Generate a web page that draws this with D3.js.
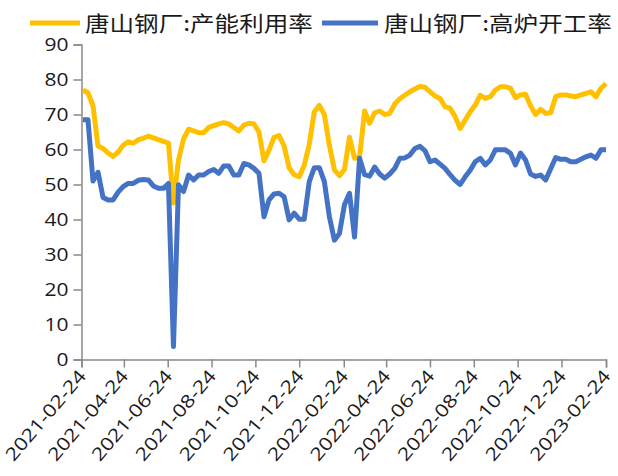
<!DOCTYPE html>
<html>
<head>
<meta charset="utf-8">
<script src="https://cdn.jsdelivr.net/npm/d3@7/dist/d3.min.js"></script>
<style>
  html, body { margin: 0; padding: 0; background: #fff; }
  svg { display: block; }
</style>
</head>
<body>
<svg id="chart" width="618" height="476"></svg>
<script>
// Weekly Tangshan steel mill indicators (%), first reading 2021-02-26
const firstWeek = "2021-02-26";

const seriesNames = ["唐山钢厂:产能利用率", "唐山钢厂:高炉开工率"];

const capacityUtil = [
  77, 76.2, 72.5, 61, 60.3, 59, 58, 59.3, 61.2, 62.2,
  61.8, 62.8, 63.2, 63.8, 63.3, 62.8, 62.3, 61.8, 44.7, 57,
  63, 65.8, 65.3, 64.8, 64.8, 66.3, 66.8, 67.3, 67.7, 67.3,
  66.3, 65.3, 67, 67.5, 67.3, 65, 56.8, 59.8, 63.5, 64,
  61, 54.8, 52.8, 52.2, 55.5, 61.5, 70.8, 72.6, 70, 61.2,
  54.2, 52.5, 54.3, 63.5, 57.5, 57.8, 71, 67.5, 70.5, 71,
  70, 70.3, 73, 74.5, 75.5, 76.5, 77.3, 78, 77.8, 76.5,
  75.3, 74.6, 72.2, 71.8, 69.4, 66, 68.4, 70.8, 72.7, 75.5,
  74.6, 75.1, 77, 77.9, 77.9, 77.5, 74.8, 75.6, 75.8, 72.5,
  70, 71.5, 70.3, 70.5, 75.1, 75.6, 75.6, 75.3, 75.1, 75.6,
  76, 76.5, 75.1, 77.5, 78.8
];

const blastFurnaceRate = [
  68.5, 68.5, 51, 53.5, 46.3, 45.6, 45.6, 47.8, 49.4, 50.3,
  50.3, 51.2, 51.4, 51.3, 49.6, 48.9, 48.9, 50.3, 3.7, 49.9,
  48, 52.7, 51.3, 52.7, 52.7, 53.7, 54.3, 53.2, 55.3, 55.3,
  52.7, 52.7, 56, 55.6, 54.6, 53.2, 40.8, 45.6, 47.3, 47.5,
  46.5, 39.9, 41.8, 40.1, 40.1, 50.8, 54.8, 54.8, 50.8, 40.8,
  34.1, 36, 44.2, 47.5, 35, 57.5, 52.8, 52.4, 55, 53,
  51.8, 53, 54.6, 57.5, 57.6, 58.4, 60.3, 60.9, 59.7, 56.5,
  57, 55.8, 54.6, 52.8, 51.2, 50, 52.2, 54.1, 56.5, 57.5,
  55.6, 57, 59.9, 59.9, 59.9, 58.9, 55.6, 59, 57, 53,
  52.3, 52.7, 51.3, 54.5, 57.7, 57.2, 57.2, 56.5, 56.5, 57.2,
  57.9, 58.4, 57.5, 59.9, 59.9
];

const xTickLabels = [
  "2021-02-24", "2021-04-24", "2021-06-24", "2021-08-24", "2021-10-24",
  "2021-12-24", "2022-02-24", "2022-04-24", "2022-06-24", "2022-08-24",
  "2022-10-24", "2022-12-24", "2023-02-24"
];
const yTicks = [0, 10, 20, 30, 40, 50, 60, 70, 80, 90];

const colors = ["#FFC000", "#4472C4"];

const parse = d3.utcParse("%Y-%m-%d");
const start = parse(firstWeek);
const dates = capacityUtil.map((_, i) => d3.utcDay.offset(start, 7 * i));

const svg = d3.select("#chart");
const plotLeft = 81.5, plotRight = 606, plotTop = 44.5, plotBottom = 359.5;

const x = d3.scaleUtc()
  .domain([parse(xTickLabels[0]), parse(xTickLabels[xTickLabels.length - 1])])
  .range([plotLeft, plotRight]);
const y = d3.scaleLinear().domain([0, 90]).range([plotBottom, plotTop]);

const axisColor = "#898989";
const textColor = "#1a1a1a";
const tickFont = "'Open Sans', 'DejaVu Sans', sans-serif";

// y axis
const yAxis = svg.append("g")
  .attr("transform", `translate(${plotLeft},0)`)
  .call(d3.axisLeft(y).tickValues(yTicks).tickSize(8).tickFormat(d3.format("d")));
yAxis.select(".domain").attr("stroke", axisColor).attr("stroke-width", 1.5);
yAxis.selectAll(".tick line").attr("stroke", axisColor).attr("stroke-width", 1.5);
yAxis.selectAll(".tick text")
  .attr("fill", textColor)
  .attr("x", 0)
  .attr("transform", "translate(-13,0) scale(1.2,1)")
  .style("font-family", tickFont)
  .style("font-size", "17.5px");

// x axis
const xAxis = svg.append("g")
  .attr("transform", `translate(0,${plotBottom})`)
  .call(d3.axisBottom(x)
    .tickValues(xTickLabels.map(parse))
    .tickSize(8)
    .tickFormat(d3.utcFormat("%Y-%m-%d")));
xAxis.select(".domain").attr("stroke", axisColor).attr("stroke-width", 1.5);
xAxis.selectAll(".tick line").attr("stroke", axisColor).attr("stroke-width", 1.5);
xAxis.selectAll(".tick text")
  .attr("fill", textColor)
  .style("font-family", tickFont)
  .style("font-size", "18px")
  .attr("text-anchor", "end")
  .attr("dy", null)
  .attr("y", null)
  .attr("transform", "translate(5,17) rotate(-49.5) scale(1.2,1)");

// lines
const line = d3.line()
  .x((d, i) => x(dates[i]))
  .y(d => y(d))
  .curve(d3.curveLinear);

[capacityUtil, blastFurnaceRate].forEach((vals, k) => {
  svg.append("path")
    .datum(vals)
    .attr("fill", "none")
    .attr("stroke", colors[k])
    .attr("stroke-width", 5)
    .attr("stroke-linejoin", "round")
    .attr("stroke-linecap", "butt")
    .attr("d", line);
});

// legend
const legendItems = [
  { name: seriesNames[0], color: colors[0], x0: 30, x1: 80, tx: 85 },
  { name: seriesNames[1], color: colors[1], x0: 322, x1: 378, tx: 384 }
];
const legend = svg.append("g");
legendItems.forEach(it => {
  legend.append("line")
    .attr("x1", it.x0).attr("x2", it.x1)
    .attr("y1", 23).attr("y2", 23)
    .attr("stroke", it.color).attr("stroke-width", 5);
  legend.append("text")
    .attr("transform", `translate(${it.tx},31) scale(1.17,1)`)
    .attr("fill", textColor)
    .style("font-family", "'Noto Sans CJK SC', sans-serif")
    .style("font-size", "21px")
    .text(it.name);
});
</script>
</body>
</html>
